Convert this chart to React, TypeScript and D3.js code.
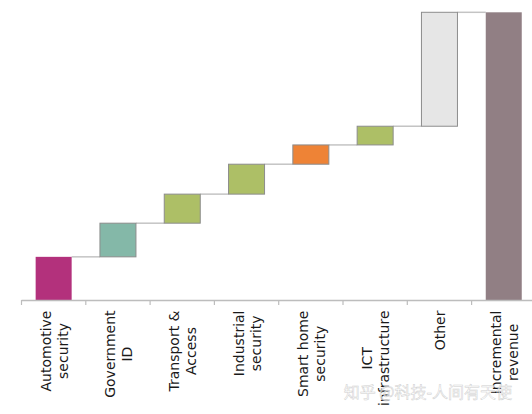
import React, { useRef, useEffect } from 'react';
import * as d3 from 'd3';

const categories = [
    'Automotive security',
    'Government ID',
    'Transport & Access',
    'Industrial security',
    'Smart home security',
    'ICT infrastructure',
    'Other',
    'Incremental revenue',
];
// label lines as they wrap in the picture
const labelLines = [
    ['Automotive', 'security'],
    ['Government', 'ID'],
    ['Transport &', 'Access'],
    ['Industrial', 'security'],
    ['Smart home', 'security'],
    ['ICT', 'infrastructure'],
    ['Other'],
    ['Incremental', 'revenue'],
];
// share of incremental revenue (%), last one is the total
const increments = [15.0, 11.7, 10.1, 10.4, 6.7, 6.5, 39.6];
const colors = ['#b3317c', '#84b8a8', '#adbf66', '#adbf66', '#ee8336', '#adbf66', '#e6e6e6', '#917f84'];

const W = 532;
const H = 414;

const App: React.FC = () => {
    const ref = useRef<SVGSVGElement | null>(null);

    useEffect(() => {
        const svg = d3.select(ref.current);
        svg.selectAll('*').remove();

        // last band runs past the right edge, as in the picture
        const x = d3.scaleBand<string>().domain(categories).range([21.5, 21.5 + 8 * 64.3]).padding(0);
        const total = d3.sum(increments);
        const y = d3.scaleLinear().domain([0, total]).range([300, 12.3]);
        const barW = 36;

        // running totals
        let acc = 0;
        const bars = categories.map((c, i) => {
            if (i === increments.length) {
                return { c, y0: 0, y1: total, i };
            }
            const b = { c, y0: acc, y1: acc + increments[i], i };
            acc += increments[i];
            return b;
        });

        const barX = (c: string) => (x(c) as number) + (x.bandwidth() - barW) / 2;

        // connectors
        svg.append('g')
            .selectAll('line')
            .data(bars.slice(0, -1))
            .enter()
            .append('line')
            .attr('x1', (d) => barX(d.c) + barW)
            .attr('x2', (d) => barX(categories[d.i + 1]))
            .attr('y1', (d) => y(d.y1))
            .attr('y2', (d) => y(d.y1))
            .attr('stroke', '#c4c4c4')
            .attr('stroke-width', 1.5);

        svg.append('g')
            .selectAll('rect')
            .data(bars)
            .enter()
            .append('rect')
            .attr('x', (d) => barX(d.c))
            .attr('width', barW)
            .attr('y', (d) => y(d.y1))
            .attr('height', (d) => y(d.y0) - y(d.y1))
            .attr('fill', (d) => colors[d.i])
            .attr('stroke', (d) => (d.i === 0 || d.i === categories.length - 1 ? 'none' : '#8c8c8c'))
            .attr('stroke-width', 1);

        // axis
        const axis = svg.append('g');
        axis.append('line')
            .attr('x1', x.range()[0]).attr('x2', W)
            .attr('y1', 300.5).attr('y2', 300.5)
            .attr('stroke', '#bdbdbd').attr('stroke-width', 1.5);
        const tickXs = categories.map((c) => x(c) as number);
        axis.selectAll('line.tick')
            .data(tickXs)
            .enter()
            .append('line')
            .attr('class', 'tick')
            .attr('x1', (d) => d).attr('x2', (d) => d)
            .attr('y1', 300).attr('y2', 305)
            .attr('stroke', '#bdbdbd').attr('stroke-width', 1.2);

        // labels: rotated, centred lines, block flush to the axis
        const lineH = 17;
        const top = 310.5;
        labelLines.forEach((lines, i) => {
            const cx = (x(categories[i]) as number) + x.bandwidth() / 2;
            const g = svg.append('g');
            const texts = lines.map((t) =>
                g.append('text')
                    .attr('text-anchor', 'middle')
                    .attr('font-family', '"DejaVu Sans", Verdana, sans-serif')
                    .attr('font-size', 14)
                    .attr('fill', '#1a1a1a')
                    .text(t)
            );
            const maxLen = d3.max(texts, (t) => (t.node() as SVGTextElement).getComputedTextLength()) || 0;
            const cy = top + maxLen / 2;
            texts.forEach((t, k) => {
                const off = (k - (lines.length - 1) / 2) * lineH;
                t.attr('transform', `translate(${cx + off + 5.5},${cy}) rotate(-90)`);
            });
        });

        // watermark
        svg.append('text')
            .attr('x', 512)
            .attr('y', 398)
            .attr('text-anchor', 'end')
            .attr('font-family', '"Noto Sans CJK SC", sans-serif')
            .attr('font-size', 16)
            .attr('fill', '#ffffff')
            .attr('fill-opacity', 0.6)
            .attr('stroke', '#cfcfcf')
            .attr('stroke-width', 0.5)
            .text('知乎 @科技-人间有天使');
    }, []);

    return (
        <svg
            ref={ref}
            width={W}
            height={H}
            style={{ position: 'absolute', left: 0, top: 0, background: '#fff' }}
        />
    );
};

export default App;
